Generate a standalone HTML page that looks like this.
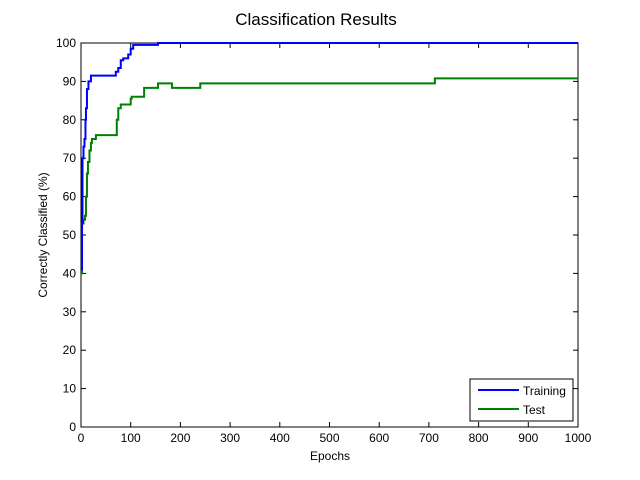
<!DOCTYPE html>
<html><head><meta charset="utf-8"><style>
html,body{margin:0;padding:0;background:#fff;}
svg{display:block;font-family:"Liberation Sans",sans-serif;}
</style></head><body>
<svg id="chart" width="640" height="480" viewBox="0 0 640 480" xmlns="http://www.w3.org/2000/svg">
<rect x="0" y="0" width="640" height="480" fill="#fff"/>
<rect x="81" y="43" width="497" height="384" fill="#fff" stroke="#000" stroke-width="1"/>
<text x="316" y="25" font-size="17" text-anchor="middle">Classification Results</text>
<text x="330" y="460" font-size="12" text-anchor="middle">Epochs</text>
<text transform="translate(47,235) rotate(-90)" font-size="12" text-anchor="middle">Correctly Classified (%)</text>
<g id="ticks"></g>
<g id="series"></g>
<g>
<rect x="470" y="379" width="103" height="42" fill="#fff" stroke="#000" stroke-width="1"/>
<line x1="478" y1="390" x2="519" y2="390" stroke="#0000ff" stroke-width="2"/>
<text x="523" y="395" font-size="12">Training</text>
<line x1="478" y1="409" x2="519" y2="409" stroke="#008000" stroke-width="2"/>
<text x="523" y="414" font-size="12">Test</text>
</g>
</svg>
<script>
const xTicks = [0,100,200,300,400,500,600,700,800,900,1000];
const yTicks = [0,10,20,30,40,50,60,70,80,90,100];
const trainEpochs = [0,2,3,5,7,9,10,12,15,20,65,70,75,80,85,95,100,105,150,155,1000];
const trainValues = [41,53,70,73,75,80,83,88,90,91.5,91.5,92.5,93.5,95.5,96,97,98.5,99.5,99.5,100,100];
const testEpochs = [0,2,5,8,10,12,14,17,20,22,30,70,72,75,80,90,100,102,120,127,155,183,238,240,710,712,1000];
const testValues = [40,53,54,55,60,66,69,72,74,75,76,76,80,83,84,84,85.5,86,86,88.3,89.5,88.3,88.3,89.5,89.5,90.8,90.8];

const X = e => 81 + e * 497 / 1000;
const Y = v => 427 - v * 384 / 100;
const NS = "http://www.w3.org/2000/svg";
const tg = document.getElementById('ticks');
function mk(tag, attrs){const el=document.createElementNS(NS,tag);for(const k in attrs)el.setAttribute(k,attrs[k]);return el;}
xTicks.forEach(t=>{
  const x=X(t);
  const a=mk('line',{x1:x,y1:427,x2:x,y2:422,stroke:'#000'});
  
  
  tg.appendChild(a);
  const b=mk('line',{x1:x,y1:43,x2:x,y2:48,stroke:'#000'});
  
  
  tg.appendChild(b);
  const l=mk('text',{x:x,y:442,'font-size':12,'text-anchor':'middle'});
  
  
  l.textContent=t;tg.appendChild(l);
});
yTicks.forEach(t=>{
  const y=Y(t);
  const a=mk('line',{x1:81,y1:y,x2:86,y2:y,stroke:'#000'});
  
  
  tg.appendChild(a);
  const b=mk('line',{x1:578,y1:y,x2:573,y2:y,stroke:'#000'});
  
  
  tg.appendChild(b);
  const l=mk('text',{x:76,y:y+4,'font-size':12,'text-anchor':'end'});
  
  
  l.textContent=t;tg.appendChild(l);
});
function stepPath(xs,ys){
  let d='M'+X(xs[0])+','+Y(ys[0]);
  for(let i=1;i<xs.length;i++){d+=' L'+X(xs[i])+','+Y(ys[i-1])+' L'+X(xs[i])+','+Y(ys[i]);}
  return d;
}
const sg=document.getElementById('series');
const p1=mk('path',{d:stepPath(trainEpochs,trainValues),fill:'none',stroke:'#0000ff','stroke-width':2});


const p2=mk('path',{d:stepPath(testEpochs,testValues),fill:'none',stroke:'#008000','stroke-width':2});


sg.appendChild(p2);sg.appendChild(p1);
</script>
</body></html>
